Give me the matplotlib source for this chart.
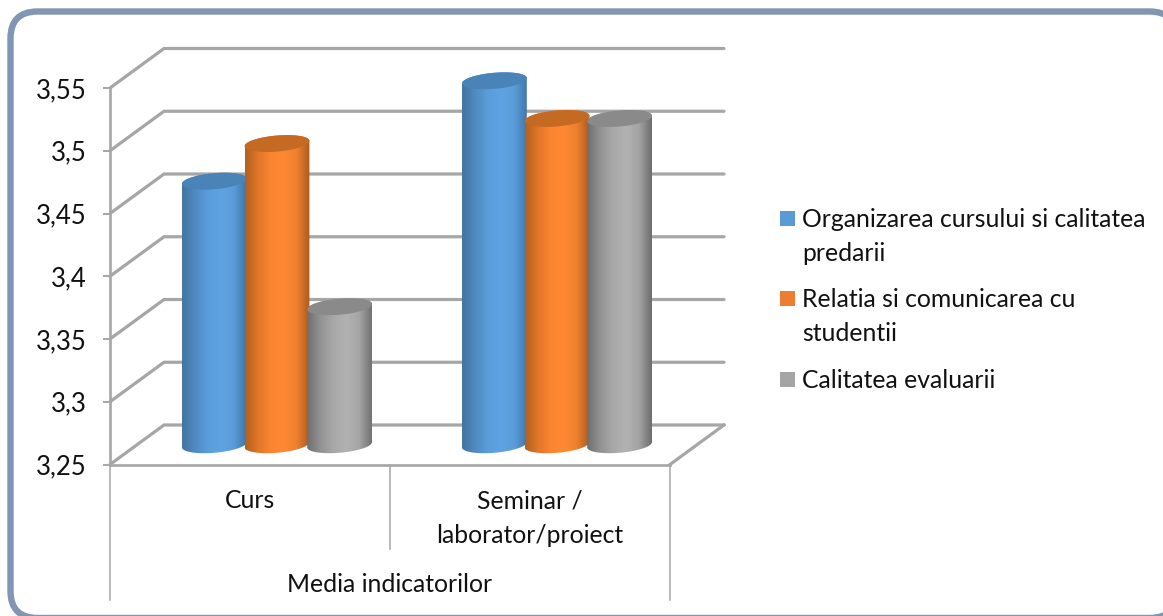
import numpy as np
import matplotlib
matplotlib.use("Agg")
import matplotlib.pyplot as plt
from matplotlib.colors import LinearSegmentedColormap
from matplotlib.patches import FancyBboxPatch, Polygon, Rectangle

# ---------- data ----------
categories = ["Curs", "Seminar /\nlaborator/proiect"]
group_label = "Media indicatorilor"
series_names = ["Organizarea cursului si calitatea\npredarii",
                "Relatia si comunicarea cu\nstudentii",
                "Calitatea evaluarii"]
organizare = [3.46, 3.54]
relatia = [3.49, 3.51]
evaluare = [3.36, 3.51]
series_values = [organizare, relatia, evaluare]
y_ticks = [3.25, 3.30, 3.35, 3.40, 3.45, 3.50, 3.55]
y_tick_labels = ["3,25", "3,3", "3,35", "3,4", "3,45", "3,5", "3,55"]

# ---------- style ----------
W, H = 1163, 616
FONT = "Lato"
FS = 17.8
plt.rcParams["font.family"] = [FONT, "DejaVu Sans"]
TXT = "#111111"
GRID = "#a6a6a6"
BORDER = "#8096b2"
ramps = [["#42749f", "#4f8ac2", "#5b9ddb", "#5fa3e2", "#5a9cd8", "#3f74a8"],
         ["#b0601f", "#e27629", "#fb8431", "#ff8933", "#ee7f2e", "#a85a20"],
         ["#6e6e6e", "#929292", "#a8a8a8", "#b2b2b2", "#a4a4a4", "#6c6c6c"]]
caps = ["#4a83b8", "#c56a22", "#8a8a8a"]
swatches = ["#5b9bd5", "#ed7d31", "#a5a5a5"]

LEFT, RIGHT, BOTTOM, TOP = 110, 670, 464.5, 88
AX_TOP = 30
fig = plt.figure(figsize=(W / 100, H / 100), dpi=100, facecolor="white")

# frame + legend canvas (pixel coordinates)
bg = fig.add_axes([0, 0, 1, 1], zorder=0)
bg.set_xlim(0, W); bg.set_ylim(H, 0); bg.axis("off")
bg.add_patch(FancyBboxPatch((10.5, 11.5), 1166, 606.5, boxstyle="round,pad=0,rounding_size=27",
                            fc="white", ec=BORDER, lw=4.6, clip_on=True))

ax = fig.add_axes([LEFT / W, 1 - BOTTOM / H, (RIGHT - LEFT) / W, (BOTTOM - AX_TOP) / H], zorder=1)
ax.patch.set_alpha(0)
sx = (RIGHT - LEFT) / 2.0          # px per category
sy = (BOTTOM - TOP) / 0.30         # px per value unit
YMAX = 3.25 + (BOTTOM - AX_TOP) / sy
ax.set_xlim(0, 2)
ax.set_ylim(3.25, YMAX)
DX, DY = 54 / sx, 39.5 / sy        # wall depth in data units

# 3-D walls
for v in y_ticks:
    ax.plot([0, DX, 2 + DX], [v, v + DY, v + DY], color=GRID, lw=2.3, clip_on=False,
            zorder=2, solid_capstyle="round", solid_joinstyle="miter")
ax.plot([2, 2 + DX], [3.25, 3.25 + DY], color=GRID, lw=2.3, clip_on=False, zorder=2)

# spines / ticks
for s in ["top", "right"]:
    ax.spines[s].set_visible(False)
for s in ["left", "bottom"]:
    ax.spines[s].set_color(GRID)
    ax.spines[s].set_linewidth(1.9)
ax.spines["left"].set_bounds(3.25, 3.55)
ax.set_yticks(y_ticks)
ax.set_yticklabels(y_tick_labels, fontsize=18.5, color=TXT)
ax.tick_params(axis="y", length=5, width=1.4, color=GRID, pad=12)
ax.set_xticks([0.5, 1.5])
ax.set_xticklabels(categories, fontsize=FS, color=TXT, linespacing=1.58)
ax.tick_params(axis="x", length=0, pad=18)
ax.set_xlabel(group_label, fontsize=FS, color=TXT)
ax.xaxis.set_label_coords(0.5, -(573 - BOTTOM) / (BOTTOM - AX_TOP), transform=ax.transAxes)

# multi-level category separators
for x, depth in [(0, 136), (1, 84), (2, 136)]:
    ax.plot([x, x], [3.25, 3.25 - depth / sy], color=GRID, lw=1.1, clip_on=False, zorder=1)

# cylinders
A, B, PHI = 32.5, 8.0, np.deg2rad(5)
SPACING = 62.6 / sx
t_up = np.linspace(0, np.pi, 60)
t_dn = np.linspace(np.pi, 2 * np.pi, 60)

def ellipse(t, cx, cy):
    px = A * np.cos(t) * np.cos(PHI) - B * np.sin(t) * np.sin(PHI)
    py = A * np.cos(t) * np.sin(PHI) + B * np.sin(t) * np.cos(PHI)
    return np.column_stack([cx + px / sx, cy + py / sy])

z = 5
for j, vals in enumerate(series_values):
    cmap = LinearSegmentedColormap.from_list(f"c{j}", ramps[j])
    grad = np.linspace(0, 1, 256)[None, :]
    for i, v in enumerate(vals):
        cx = i + 0.5 + (j - 1) * SPACING + DX / 2
        y0, y1 = 3.25 + DY / 2, v + DY / 2
        body = np.vstack([ellipse(t_dn, cx, y0), ellipse(t_up, cx, y1)])
        im = ax.imshow(grad, cmap=cmap, aspect="auto", zorder=z, interpolation="bilinear",
                       extent=[cx - A / sx, cx + A / sx, y0 - 12 / sy, y1 + 12 / sy])
        clip = Polygon(body, closed=True, transform=ax.transData, fc="none", ec="none")
        ax.add_patch(clip)
        clip.set_clip_on(False)
        im.set_clip_path(clip)
        cap = Polygon(ellipse(np.linspace(0, 2 * np.pi, 100), cx, y1), closed=True,
                      fc=caps[j], ec="none", zorder=z + 0.5, clip_on=False)
        ax.add_patch(cap)
        z += 1
ax.set_xlim(0, 2)
ax.set_ylim(3.25, YMAX)

# legend
rows = [218.5, 298.5, 379.5]
for name, color, y in zip(series_names, swatches, rows):
    bg.add_patch(Rectangle((780, y - 7.5), 15, 15, fc=color, ec="none"))
    bg.text(802.5, y - 10.5, name, fontsize=FS, color=TXT, va="top", ha="left", linespacing=1.58)

fig.savefig("out.png", dpi=100, facecolor="white")
